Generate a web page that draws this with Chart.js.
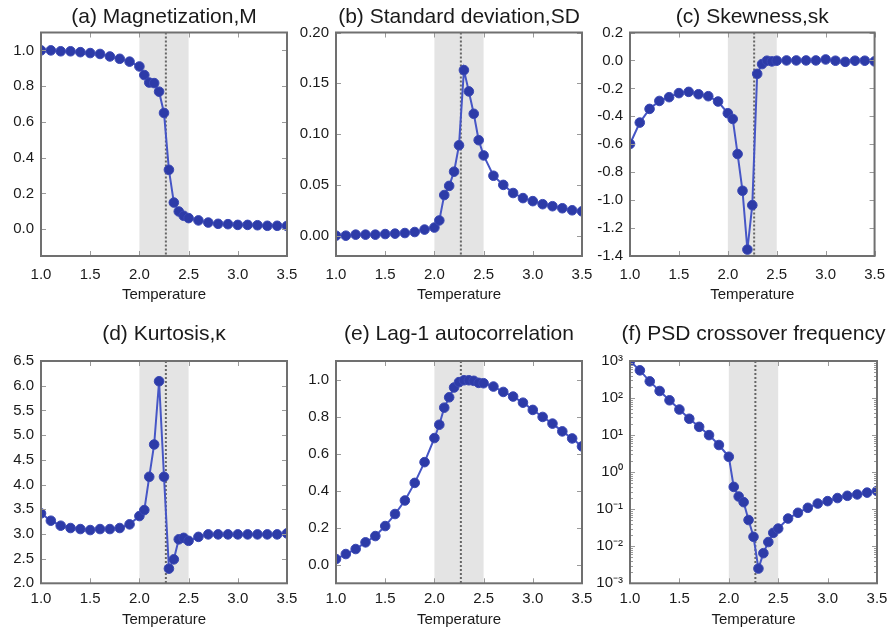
<!DOCTYPE html>
<html>
<head>
<meta charset="utf-8">
<script src="https://cdn.jsdelivr.net/npm/chart.js@4.4.0/dist/chart.umd.min.js"></script>
<style>
  body { margin: 0; background: #fff; }
  #wrap { position: relative; width: 895px; height: 631px; overflow: hidden; }
  #wrap canvas { position: absolute; }
</style>
</head>
<body>
<div id="wrap">
  <canvas id="chartA" width="310" height="310" style="left:0;top:0"></canvas>
  <canvas id="chartB" width="310" height="310" style="left:295px;top:0"></canvas>
  <canvas id="chartC" width="305" height="310" style="left:590px;top:0"></canvas>
  <canvas id="chartD" width="310" height="321" style="left:0;top:310px"></canvas>
  <canvas id="chartE" width="310" height="321" style="left:295px;top:310px"></canvas>
  <canvas id="chartF" width="305" height="321" style="left:590px;top:310px"></canvas>
</div>
<script>
// Temperature grid (finer steps through the transition window)
const temperature = [1.0, 1.1, 1.2, 1.3, 1.4, 1.5, 1.6, 1.7, 1.8, 1.9,
  2.0, 2.05, 2.1, 2.15, 2.2, 2.25, 2.3, 2.35, 2.4, 2.45, 2.5,
  2.6, 2.7, 2.8, 2.9, 3.0, 3.1, 3.2, 3.3, 3.4, 3.5];

const magnetization = [1.0, 1.0, 0.995, 0.995, 0.99, 0.985, 0.98, 0.966, 0.953, 0.937,
  0.91, 0.862, 0.82, 0.817, 0.769, 0.65, 0.332, 0.149, 0.099, 0.075, 0.062,
  0.049, 0.037, 0.03, 0.028, 0.024, 0.024, 0.022, 0.019, 0.019, 0.018];

const stdDev = [0.0, 0.0, 0.001, 0.001, 0.001, 0.0016, 0.002, 0.0026, 0.0036, 0.006,
  0.008, 0.015, 0.040, 0.049, 0.063, 0.089, 0.163, 0.142, 0.120, 0.094, 0.079,
  0.059, 0.050, 0.042, 0.037, 0.034, 0.031, 0.029, 0.027, 0.025, 0.024];

const skewness = [-0.598, -0.445, -0.347, -0.29, -0.263, -0.234, -0.225, -0.242, -0.256, -0.294,
  -0.378, -0.419, -0.67, -0.933, -1.354, -1.036, -0.096, -0.026, -0.002, -0.007, -0.002,
  0.0, 0.0, 0.0, 0.0, 0.007, -0.002, -0.01, -0.002, -0.002, -0.007];

const kurtosis = [3.415, 3.267, 3.166, 3.119, 3.098, 3.078, 3.098, 3.098, 3.119, 3.193,
  3.361, 3.482, 4.156, 4.81, 6.09, 4.156, 2.296, 2.485, 2.89, 2.92, 2.86,
  2.94, 2.99, 2.99, 2.99, 2.99, 2.99, 2.99, 2.99, 2.99, 3.01];

const lag1 = [0.031, 0.058, 0.085, 0.121, 0.155, 0.209, 0.274, 0.347, 0.442, 0.554,
  0.684, 0.756, 0.848, 0.904, 0.957, 0.986, 0.996, 0.996, 0.993, 0.982, 0.98,
  0.962, 0.933, 0.908, 0.875, 0.836, 0.798, 0.762, 0.72, 0.682, 0.639];

const crossoverFreq = [1000, 560, 282, 155, 87, 49, 27.6, 16.7, 10, 5.4,
  2.6, 0.40, 0.22, 0.155, 0.051, 0.018, 0.0025, 0.0065, 0.013, 0.023, 0.030,
  0.056, 0.080, 0.109, 0.142, 0.165, 0.20, 0.23, 0.25, 0.28, 0.31];

// Axis ticks
const tempTicks = [1.0, 1.5, 2.0, 2.5, 3.0, 3.5];
const magTicks = [0.0, 0.2, 0.4, 0.6, 0.8, 1.0];
const sdTicks = [0.0, 0.05, 0.10, 0.15, 0.20];
const skewTicks = [0.2, 0.0, -0.2, -0.4, -0.6, -0.8, -1.0, -1.2, -1.4];
const kurtTicks = [2.0, 2.5, 3.0, 3.5, 4.0, 4.5, 5.0, 5.5, 6.0, 6.5];
const acTicks = [0.0, 0.2, 0.4, 0.6, 0.8, 1.0];
const freqTicks = [0.001, 0.01, 0.1, 1, 10, 100, 1000];
const freqTickLabels = ['10⁻³', '10⁻²', '10⁻¹', '10⁰', '10¹', '10²', '10³'];

// Transition window and critical temperature
const shadeStart = 2.0;
const shadeEnd = 2.5;
const criticalTemp = 2.269;

const FONT = '"Liberation Sans", Arial, Helvetica, sans-serif';

// shading, dotted Tc line, inward ticks, frame and panel title
const panelDecor = {
  id: 'panelDecor',
  beforeDatasetsDraw(chart) {
    const { ctx, chartArea: a, scales: { x } } = chart;
    ctx.save();
    const x0 = x.getPixelForValue(shadeStart);
    const x1 = x.getPixelForValue(shadeEnd);
    ctx.fillStyle = '#e4e4e4';
    ctx.fillRect(x0, a.top, x1 - x0, a.bottom - a.top);
    const xc = x.getPixelForValue(criticalTemp);
    ctx.strokeStyle = '#666';
    ctx.lineWidth = 2;
    ctx.setLineDash([2, 2]);
    ctx.beginPath();
    ctx.moveTo(xc, a.top);
    ctx.lineTo(xc, a.bottom);
    ctx.stroke();
    ctx.restore();
  },
  afterDatasetsDraw(chart, args, opts) {
    const { ctx, chartArea: a, scales: { x, y } } = chart;
    ctx.save();
    ctx.strokeStyle = '#9a9a9a';
    ctx.lineWidth = 1;
    ctx.beginPath();
    x.ticks.forEach(t => {
      const px = Math.round(x.getPixelForValue(t.value)) + 0.5;
      ctx.moveTo(px, a.bottom); ctx.lineTo(px, a.bottom - 5);
      ctx.moveTo(px, a.top); ctx.lineTo(px, a.top + 5);
    });
    y.ticks.forEach(t => {
      const py = Math.round(y.getPixelForValue(t.value)) + 0.5;
      ctx.moveTo(a.left, py); ctx.lineTo(a.left + 5, py);
      ctx.moveTo(a.right, py); ctx.lineTo(a.right - 5, py);
    });
    if (y.type === 'logarithmic') {
      for (let d = y.min; d < y.max; d *= 10) {
        for (let m = 2; m < 10; m++) {
          const py = Math.round(y.getPixelForValue(d * m)) + 0.5;
          ctx.moveTo(a.left, py); ctx.lineTo(a.left + 3, py);
          ctx.moveTo(a.right, py); ctx.lineTo(a.right - 3, py);
        }
      }
    }
    ctx.stroke();
    ctx.strokeStyle = '#707070';
    ctx.lineWidth = 2;
    ctx.strokeRect(a.left, a.top, a.right - a.left, a.bottom - a.top);

    ctx.fillStyle = '#1a1a1a';
    ctx.font = '21px ' + FONT;
    ctx.textAlign = 'center';
    ctx.textBaseline = 'alphabetic';
    ctx.fillText(opts.text, (a.left + a.right) / 2, opts.baseline);
    ctx.restore();
  }
};

function makePanel(id, cfg) {
  const top = cfg.row === 0;
  const points = temperature.map((t, i) => ({ x: t, y: cfg.values[i] }));
  const fmt = cfg.format || (v => v.toFixed(1));
  return new Chart(document.getElementById(id), {
    type: 'line',
    data: {
      datasets: [{
        data: points,
        borderColor: '#4656c6',
        borderWidth: 2,
        backgroundColor: '#2d3ba8',
        pointBackgroundColor: '#2d3ba8',
        pointBorderColor: '#3a48b4',
        pointBorderWidth: 1,
        pointRadius: 4.8,
        tension: 0
      }]
    },
    options: {
      responsive: false,
      animation: false,
      events: [],
      layout: { padding: { top: top ? 32.5 : 51, right: cfg.right, bottom: 0, left: 0 } },
      plugins: {
        legend: { display: false },
        tooltip: { enabled: false },
        panelDecor: { text: cfg.title, baseline: top ? 23 : 29.5 }
      },
      scales: {
        x: {
          type: 'linear',
          min: 1.0,
          max: 3.5,
          grid: { display: false, drawTicks: false },
          border: { display: false },
          afterBuildTicks: s => { s.ticks = tempTicks.map(v => ({ value: v })); },
          afterFit: s => { s.height = top ? 54 : 47.7; },
          ticks: {
            padding: top ? 10 : 6.5,
            color: '#1a1a1a',
            font: { family: FONT, size: 15 },
            callback: v => v.toFixed(1)
          },
          title: {
            display: true,
            text: 'Temperature',
            color: '#1a1a1a',
            font: { family: FONT, size: 15 },
            padding: { top: 0, bottom: top ? 6.5 : 2.5 }
          }
        },
        y: {
          type: cfg.log ? 'logarithmic' : 'linear',
          min: cfg.min,
          max: cfg.max,
          grid: { display: false, drawTicks: false },
          border: { display: false },
          afterBuildTicks: s => { s.ticks = cfg.ticks.map(v => ({ value: v })); },
          afterFit: s => { s.width = cfg.left; },
          ticks: {
            padding: 7,
            color: '#1a1a1a',
            font: { family: FONT, size: 15 },
            callback: fmt
          }
        }
      }
    },
    plugins: [panelDecor]
  });
}

makePanel('chartA', { row: 0, left: 41, right: 23, title: '(a) Magnetization,M',
  values: magnetization, min: -0.15, max: 1.1, ticks: magTicks });
makePanel('chartB', { row: 0, left: 41, right: 23, title: '(b) Standard deviation,SD',
  values: stdDev, min: -0.02, max: 0.20, ticks: sdTicks, format: v => v.toFixed(2) });
makePanel('chartC', { row: 0, left: 40, right: 18, title: '(c) Skewness,sk',
  values: skewness, min: -1.4, max: 0.2, ticks: skewTicks });
makePanel('chartD', { row: 1, left: 41, right: 23, title: '(d) Kurtosis,κ',
  values: kurtosis, min: 2.0, max: 6.5, ticks: kurtTicks });
makePanel('chartE', { row: 1, left: 41, right: 23, title: '(e) Lag-1 autocorrelation',
  values: lag1, min: -0.1, max: 1.1, ticks: acTicks });
makePanel('chartF', { row: 1, left: 40, right: 18, title: '(f) PSD crossover frequency',
  values: crossoverFreq, min: 0.001, max: 1000, ticks: freqTicks, log: true,
  format: v => freqTickLabels[freqTicks.findIndex(t => Math.abs(Math.log10(t) - Math.log10(v)) < 1e-6)] });
</script>
</body>
</html>
